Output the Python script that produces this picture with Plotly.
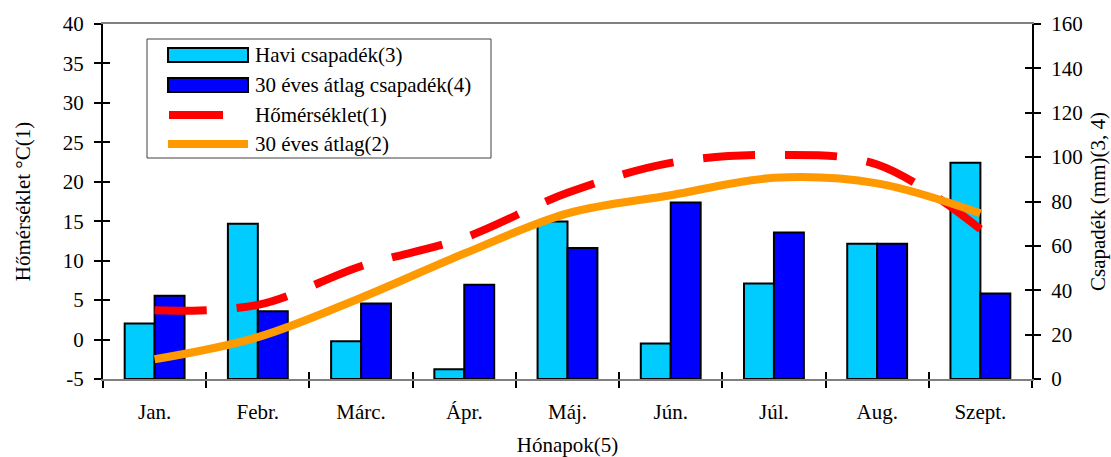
import plotly.graph_objects as go

# Monthly data
months = ["Jan.", "Febr.", "Márc.", "Ápr.", "Máj.", "Jún.", "Júl.", "Aug.", "Szept."]
havi_csapadek = [25, 70, 17, 4.4, 71, 16, 43, 61, 97.5]          # mm
atlag_csapadek = [37.5, 30.5, 34, 42.5, 59, 79.5, 66, 61, 38.5]   # mm
homerseklet = [3.7, 4.4, 9.3, 12.9, 18.6, 22.4, 23.4, 22.2, 14.0]  # °C
atlag_homerseklet = [-2.5, 0.3, 5.3, 10.9, 16.0, 18.3, 20.5, 19.8, 16.0]  # °C

temp_ticks = [-5, 0, 5, 10, 15, 20, 25, 30, 35, 40]
temp_ticktext = ["-5", "0", "5", "10", "15", "20", "25", "30", "35", "40"]
rain_ticks = [0, 20, 40, 60, 80, 100, 120, 140, 160]

FONT = "Liberation Serif"
CYAN = "#00CCFF"
BLUE = "#0000FF"
RED = "#FF0000"
ORANGE = "#FF9900"

W, H = 1111, 457
L, R, T, B = 103, 79, 24, 78
PW, PH = W - L - R, H - T - B


def px(x):
    return (x - L) / PW


def py(y):
    return (H - B - y) / PH


fig = go.Figure()

# precipitation bars (right axis)
fig.add_trace(go.Bar(x=months, y=havi_csapadek, name="Havi csapadék(3)",
                     marker=dict(color=CYAN, line=dict(color="black", width=2)),
                     yaxis="y", showlegend=False))
fig.add_trace(go.Bar(x=months, y=atlag_csapadek, name="30 éves átlag csapadék(4)",
                     marker=dict(color=BLUE, line=dict(color="black", width=2)),
                     yaxis="y", showlegend=False))

# temperature curves (left axis)
fig.add_trace(go.Scatter(x=months, y=homerseklet, name="Hőmérséklet(1)", mode="lines",
                         line=dict(color=RED, width=8, dash="52px,30px", shape="spline", smoothing=1.0),
                         yaxis="y2", showlegend=False))
fig.add_trace(go.Scatter(x=months, y=atlag_homerseklet, name="30 éves átlag(2)", mode="lines",
                         line=dict(color=ORANGE, width=8, shape="spline", smoothing=1.0),
                         yaxis="y2", showlegend=False))

# empty traces that carry the inner tick marks
fig.add_trace(go.Scatter(x=months, y=[None] * len(months), xaxis="x2", yaxis="y3",
                         showlegend=False, hoverinfo="skip"))
fig.add_trace(go.Scatter(x=months, y=[None] * len(months), xaxis="x2", yaxis="y4",
                         showlegend=False, hoverinfo="skip"))

tickfont = dict(family=FONT, size=21, color="black")

fig.update_layout(
    width=W, height=H,
    margin=dict(l=L, r=R, t=T, b=B, autoexpand=False),
    paper_bgcolor="white", plot_bgcolor="white",
    barmode="group", bargap=0.42, bargroupgap=0,
    font=dict(family=FONT, size=21, color="black"),
    xaxis=dict(
        type="category", categoryorder="array", categoryarray=months,
        range=[-0.5, len(months) - 0.5],
        showline=True, linecolor="#808080", linewidth=2, mirror=True,
        ticks="outside", ticklen=7, tickwidth=1.5, tickcolor="black",
        tickson="boundaries", showgrid=False, zeroline=False,
        tickfont=tickfont, ticklabelstandoff=13,
        title=dict(text="Hónapok(5)", font=dict(family=FONT, size=21), standoff=18),
    ),
    xaxis2=dict(
        type="category", categoryorder="array", categoryarray=months,
        range=[-0.5, len(months) - 0.5], overlaying="x", anchor="y",
        ticks="inside", ticklen=7, tickwidth=1.5, tickcolor="black",
        tickson="boundaries", showticklabels=False, showline=False,
        showgrid=False, zeroline=False,
    ),
    yaxis=dict(
        side="right", range=[0, 160], tickvals=rain_ticks,
        showline=True, linecolor="black", linewidth=2,
        ticks="outside", ticklen=7, tickwidth=1.5, tickcolor="black",
        showgrid=False, zeroline=False, tickfont=tickfont, ticklabelstandoff=6,
        title=dict(text="Csapadék (mm)(3, 4)", font=dict(family=FONT, size=21), standoff=9),
    ),
    yaxis2=dict(
        side="left", overlaying="y", range=[-5, 40],
        tickvals=temp_ticks, ticktext=temp_ticktext,
        showline=True, linecolor="black", linewidth=2,
        ticks="outside", ticklen=7, tickwidth=1.5, tickcolor="black",
        showgrid=False, zeroline=False, tickfont=tickfont, ticklabelstandoff=6,
        title=dict(text="Hőmérséklet °C(1)", font=dict(family=FONT, size=21), standoff=26),
    ),
    yaxis3=dict(
        side="right", overlaying="y", range=[0, 160], tickvals=rain_ticks,
        ticks="inside", ticklen=7, tickwidth=1.5, tickcolor="black",
        showticklabels=False, showline=False, showgrid=False, zeroline=False,
    ),
    yaxis4=dict(
        side="left", overlaying="y", range=[-5, 40], tickvals=temp_ticks,
        ticks="inside", ticklen=7, tickwidth=1.5, tickcolor="black",
        showticklabels=False, showline=False, showgrid=False, zeroline=False,
    ),
)

# legend box
shapes = [dict(type="rect", xref="paper", yref="paper",
               x0=px(147), x1=px(491), y0=py(158), y1=py(39),
               line=dict(color="#404040", width=1), fillcolor="white", layer="above")]
legend_rows = [
    ("Havi csapadék(3)", "bar", CYAN, 55),
    ("30 éves átlag csapadék(4)", "bar", BLUE, 85),
    ("Hőmérséklet(1)", "dash", RED, 115),
    ("30 éves átlag(2)", "line", ORANGE, 144),
]
annotations = []
for label, kind, color, yc in legend_rows:
    if kind == "bar":
        shapes.append(dict(type="rect", xref="paper", yref="paper",
                           x0=px(168), x1=px(248), y0=py(yc + 7), y1=py(yc - 7),
                           line=dict(color="black", width=2), fillcolor=color, layer="above"))
    elif kind == "dash":
        shapes.append(dict(type="line", xref="paper", yref="paper",
                           x0=px(169), x1=px(223), y0=py(yc), y1=py(yc),
                           line=dict(color=color, width=8), layer="above"))
    else:
        shapes.append(dict(type="line", xref="paper", yref="paper",
                           x0=px(168), x1=px(248), y0=py(yc), y1=py(yc),
                           line=dict(color=color, width=8), layer="above"))
    annotations.append(dict(xref="paper", yref="paper", x=px(253), y=py(yc),
                            xanchor="left", yanchor="middle", showarrow=False,
                            text=label, font=dict(family=FONT, size=21, color="black")))

fig.update_layout(shapes=shapes, annotations=annotations)

fig.write_html("out.html")
